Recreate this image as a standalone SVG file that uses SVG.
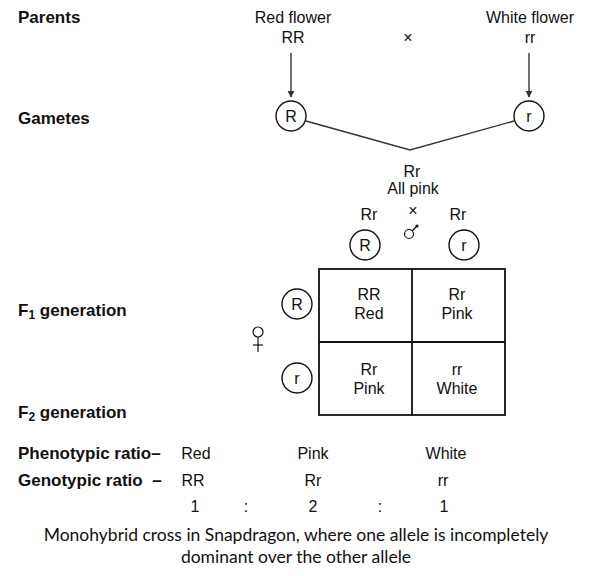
<svg xmlns="http://www.w3.org/2000/svg" width="597" height="576" viewBox="0 0 597 576">
<defs>
<marker id="ah" viewBox="0 0 10 10" refX="9" refY="5" markerWidth="7" markerHeight="8" orient="auto" markerUnits="userSpaceOnUse">
<path d="M0,0 L10,5 L0,10 z" fill="#333"/>
</marker>
<style>
.lbl{font-family:"Liberation Sans",Arial,sans-serif;font-weight:bold;font-size:17px;fill:#111}
.t{font-family:"Liberation Sans",Arial,sans-serif;font-size:16px;fill:#111;text-anchor:middle}
.c{fill:#fff;stroke:#111;stroke-width:1.4}
.ln{stroke:#333;stroke-width:1.4;fill:none}
.grid{stroke:#111;stroke-width:1.8;fill:none}
.cap{font-family:Lato,"Open Sans",sans-serif;font-size:17.5px;fill:#111;text-anchor:middle}
</style>
</defs>
<rect width="597" height="576" fill="#fff"/>
<g id="labels">
<text class="lbl" x="18" y="23">Parents</text>
<text class="lbl" x="18" y="124">Gametes</text>
<text class="lbl" x="18" y="316">F<tspan font-size="12" dy="3">1</tspan><tspan dy="-3"> generation</tspan></text>
<text class="lbl" x="18" y="418">F<tspan font-size="12" dy="3">2</tspan><tspan dy="-3"> generation</tspan></text>
</g>
<g id="parent-red">
<text class="t" x="293" y="23">Red flower</text>
<text class="t" x="293" y="43">RR</text>
</g>
<g id="cross-sign"><text class="t" x="408" y="43" font-size="12">×</text></g>
<g id="parent-white">
<text class="t" x="530" y="23">White flower</text>
<text class="t" x="530" y="43">rr</text>
</g>
<g id="gamete-R"><circle class="c" cx="291" cy="116" r="15"/><text class="t" x="291" y="122">R</text></g>
<g id="gamete-r"><circle class="c" cx="529" cy="116" r="15"/><text class="t" x="529" y="122">r</text></g>
<g id="connectors">
<line class="ln" x1="291" y1="53" x2="291" y2="97" marker-end="url(#ah)"/>
<line class="ln" x1="529" y1="53" x2="529" y2="97" marker-end="url(#ah)"/>
<polyline class="ln" points="306,121 410,150 514,121"/>
</g>
<g id="f1">
<text class="t" x="412" y="177">Rr</text>
<text class="t" x="413" y="194">All pink</text>
</g>
<g id="male-side">
<text class="t" x="369" y="220">Rr</text>
<text class="t" x="413" y="216" font-size="12">×</text>
<text class="t" x="458" y="220">Rr</text>
<circle cx="409" cy="234" r="4.5" fill="none" stroke="#111" stroke-width="1.2"/>
<line x1="412" y1="231" x2="417" y2="226" stroke="#111" stroke-width="1.2"/>
<circle cx="417" cy="226" r="1.6" fill="#111"/>
</g>
<g id="male-R"><circle class="c" cx="365" cy="245" r="15"/><text class="t" x="365" y="251">R</text></g>
<g id="male-r"><circle class="c" cx="464" cy="245" r="15"/><text class="t" x="464" y="251">r</text></g>
<g id="female-side">
<circle cx="258" cy="332" r="5" fill="none" stroke="#111" stroke-width="1.2"/>
<line x1="258" y1="337" x2="258" y2="352" stroke="#111" stroke-width="1.2"/>
<line x1="253" y1="345" x2="263" y2="345" stroke="#111" stroke-width="1.2"/>
</g>
<g id="female-R"><circle class="c" cx="297" cy="304" r="15"/><text class="t" x="297" y="310">R</text></g>
<g id="female-r"><circle class="c" cx="297" cy="378" r="15"/><text class="t" x="297" y="384">r</text></g>
<g id="punnett">
<rect class="grid" x="319" y="269" width="186" height="146"/>
<line class="grid" x1="412" y1="269" x2="412" y2="415"/>
<line class="grid" x1="319" y1="342" x2="505" y2="342"/>
<text class="t" x="369" y="300">RR</text><text class="t" x="369" y="319">Red</text>
<text class="t" x="457" y="300">Rr</text><text class="t" x="457" y="319">Pink</text>
<text class="t" x="369" y="375">Rr</text><text class="t" x="369" y="394">Pink</text>
<text class="t" x="457" y="375">rr</text><text class="t" x="457" y="394">White</text>
</g>
<g id="ratios">
<text class="lbl" x="18" y="459">Phenotypic ratio–</text>
<text class="lbl" x="18" y="486" xml:space="preserve">Genotypic ratio  –</text>
<text class="t" x="196" y="459">Red</text>
<text class="t" x="313" y="459">Pink</text>
<text class="t" x="446" y="459">White</text>
<text class="t" x="193" y="486">RR</text>
<text class="t" x="313" y="486">Rr</text>
<text class="t" x="443" y="486">rr</text>
<text class="t" x="195" y="512">1</text>
<text class="t" x="246" y="512">:</text>
<text class="t" x="313" y="512">2</text>
<text class="t" x="380" y="512">:</text>
<text class="t" x="444" y="512">1</text>
</g>
<g id="caption">
<text class="cap" x="296" y="541">Monohybrid cross in Snapdragon, where one allele is incompletely</text>
<text class="cap" x="296" y="563">dominant over the other allele</text>
</g>
</svg>
